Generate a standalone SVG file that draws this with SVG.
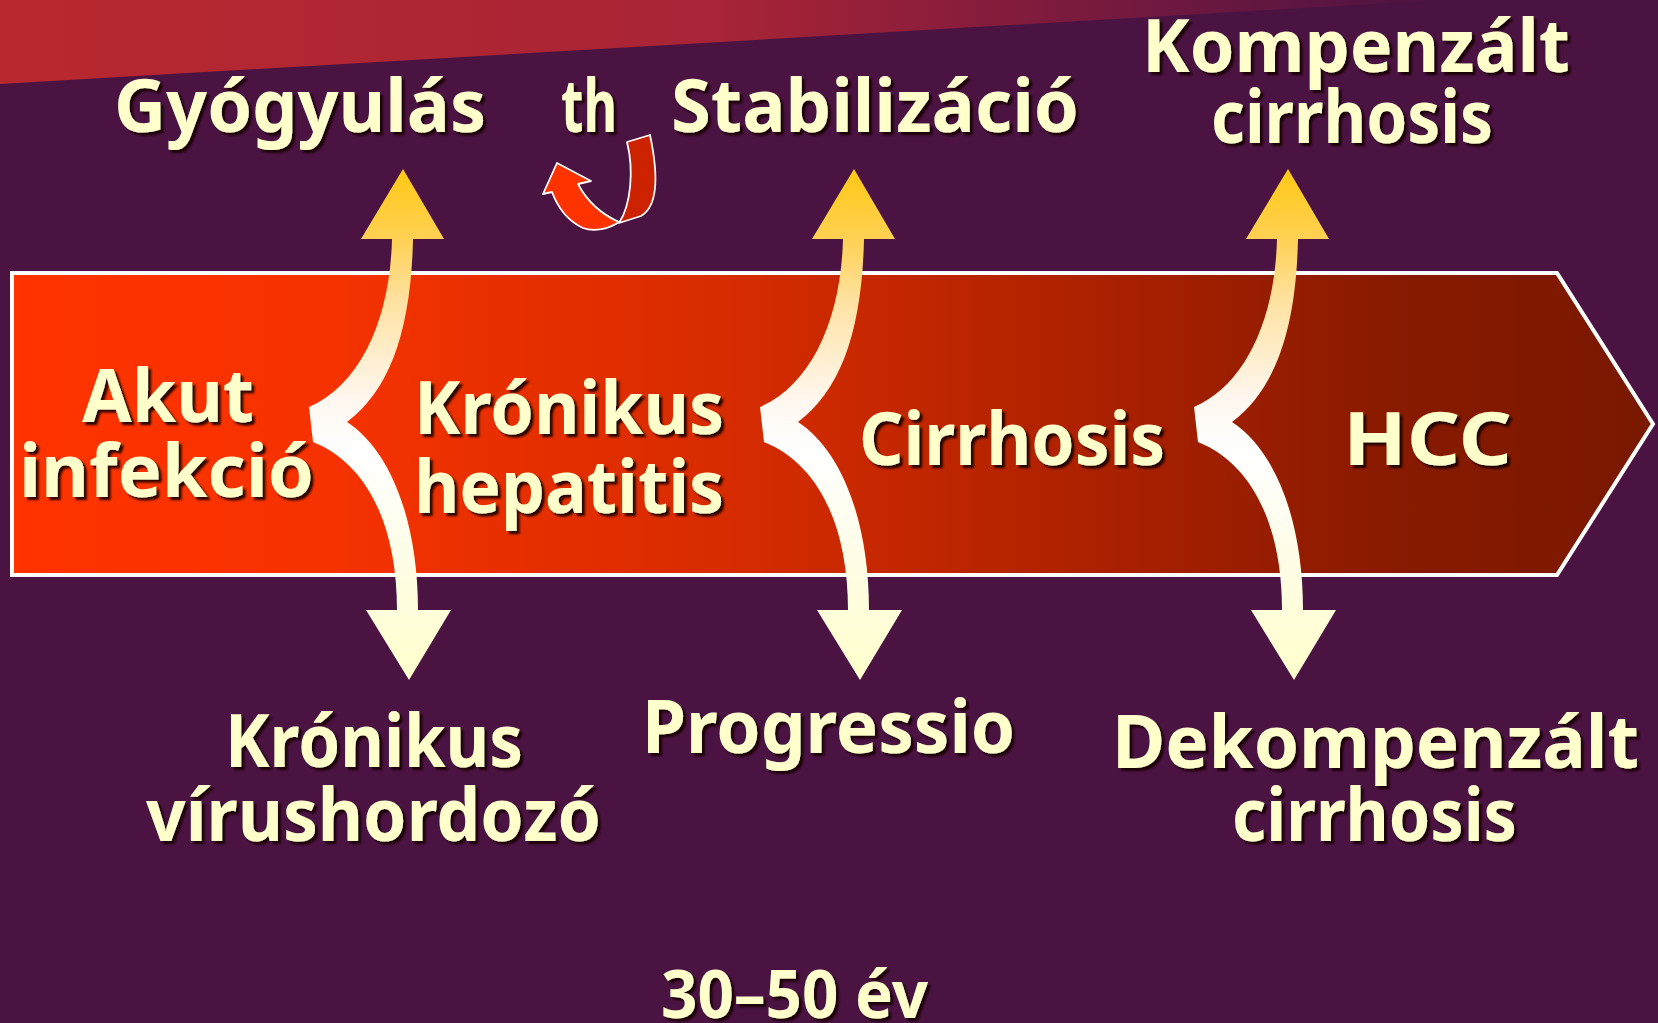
<svg xmlns="http://www.w3.org/2000/svg" width="1658" height="1023" viewBox="0 0 1658 1023">
  <style>
    .t { font-family: "Noto Sans", "DejaVu Sans", sans-serif; font-weight: 700; font-size: 74px; fill: #ffffcc; filter: url(#sh); }
    .s { font-size: 66px; }
  </style>
  <defs>
    <filter id="sh" x="-10%" y="-20%" width="130%" height="150%">
      <feDropShadow dx="3" dy="3" stdDeviation="1.2" flood-color="#120005" flood-opacity="0.9"/>
    </filter>
    <linearGradient id="band" x1="0" y1="0" x2="1440" y2="0" gradientUnits="userSpaceOnUse">
      <stop offset="0" stop-color="#b8282f"/>
      <stop offset="0.5" stop-color="#a82436"/>
      <stop offset="0.75" stop-color="#7a1a3e"/>
      <stop offset="1" stop-color="#4b1342"/>
    </linearGradient>
    <linearGradient id="boxg" x1="12" y1="0" x2="1653" y2="0" gradientUnits="userSpaceOnUse">
      <stop offset="0" stop-color="#ff3300"/>
      <stop offset="0.2" stop-color="#f53200"/>
      <stop offset="0.45" stop-color="#d52b00"/>
      <stop offset="0.7" stop-color="#a41f00"/>
      <stop offset="0.85" stop-color="#871a00"/>
      <stop offset="1" stop-color="#7a1800"/>
    </linearGradient>
    <linearGradient id="arrg" x1="0" y1="169" x2="0" y2="680" gradientUnits="userSpaceOnUse">
      <stop offset="0" stop-color="#ffc814"/>
      <stop offset="0.14" stop-color="#ffd155"/>
      <stop offset="0.26" stop-color="#ffe2a2"/>
      <stop offset="0.45" stop-color="#fff7ef"/>
      <stop offset="0.55" stop-color="#ffffff"/>
      <stop offset="0.8" stop-color="#fffde2"/>
      <stop offset="1" stop-color="#ffffcc"/>
    </linearGradient>
    <path id="fork" d="M309,407 C360,385 390,320 392,239 L361,239 L403,169 L444,239 L413,239 C411,330 390,390 347,422 C390,450 418,520 418,610 L451,610 L409,680 L366,610 L397,610 C397,530 370,465 313,442 Z"/>
  </defs>

  <rect width="1658" height="1023" fill="#4b1342"/>
  <polygon points="0,0 1440,0 0,84" fill="url(#band)"/>

  <g id="timeline">
    <polygon points="12,273 1557,273 1653,424 1557,575 12,575" fill="url(#boxg)" stroke="#ffffff" stroke-width="4" stroke-linejoin="miter"/>
  </g>

  <g id="connectors">
    <use href="#fork" fill="url(#arrg)"/>
    <use href="#fork" fill="url(#arrg)" transform="translate(451,0)"/>
    <use href="#fork" fill="url(#arrg)" transform="translate(885,0)"/>
    <g id="th-arrow" stroke="#ffffff" stroke-width="1.8" stroke-linejoin="round">
      <path d="M627,142 L650,135 C657,168 660,205 641,216 L619,223 C631,205 634,170 627,142 Z" fill="#cc2200"/>
      <path d="M543,194 L557,163 L591,181 L578,184 C588,203 601,214 619,222 C609,229 594,232 583,228 C568,221 558,208 552,192 Z" fill="#ff3300"/>
    </g>
  </g>

  <g id="node-gyogyulas"><text class="t" x="114" y="132" textLength="372" lengthAdjust="spacingAndGlyphs">Gyógyulás</text></g>
  <g id="node-th"><text class="t" x="561" y="132" textLength="56" lengthAdjust="spacingAndGlyphs">th</text></g>
  <g id="node-stabilizacio"><text class="t" x="671" y="132" textLength="408" lengthAdjust="spacingAndGlyphs">Stabilizáció</text></g>
  <g id="node-kompenzalt">
    <text class="t" x="1142" y="72" textLength="428" lengthAdjust="spacingAndGlyphs">Kompenzált</text>
    <text class="t" x="1211" y="143" textLength="282" lengthAdjust="spacingAndGlyphs">cirrhosis</text>
  </g>
  <g id="node-akut">
    <text class="t" x="82" y="422" textLength="172" lengthAdjust="spacingAndGlyphs">Akut</text>
    <text class="t" x="19" y="497" textLength="295" lengthAdjust="spacingAndGlyphs">infekció</text>
  </g>
  <g id="node-kronikus-hepatitis">
    <text class="t" x="414" y="434" textLength="310" lengthAdjust="spacingAndGlyphs">Krónikus</text>
    <text class="t" x="414" y="513" textLength="310" lengthAdjust="spacingAndGlyphs">hepatitis</text>
  </g>
  <g id="node-cirrhosis"><text class="t" x="859" y="465" textLength="306" lengthAdjust="spacingAndGlyphs">Cirrhosis</text></g>
  <g id="node-hcc"><text class="t" x="1343" y="465" textLength="169" lengthAdjust="spacingAndGlyphs">HCC</text></g>
  <g id="node-virushordozo">
    <text class="t" x="225" y="767" textLength="298" lengthAdjust="spacingAndGlyphs">Krónikus</text>
    <text class="t" x="146" y="841" textLength="455" lengthAdjust="spacingAndGlyphs">vírushordozó</text>
  </g>
  <g id="node-progressio"><text class="t" x="642" y="753" textLength="373" lengthAdjust="spacingAndGlyphs">Progressio</text></g>
  <g id="node-dekompenzalt">
    <text class="t" x="1112" y="768" textLength="527" lengthAdjust="spacingAndGlyphs">Dekompenzált</text>
    <text class="t" x="1232" y="841" textLength="285" lengthAdjust="spacingAndGlyphs">cirrhosis</text>
  </g>
  <g id="node-ev"><text class="t s" x="661" y="1018" textLength="267" lengthAdjust="spacingAndGlyphs">30–50 év</text></g>
</svg>
